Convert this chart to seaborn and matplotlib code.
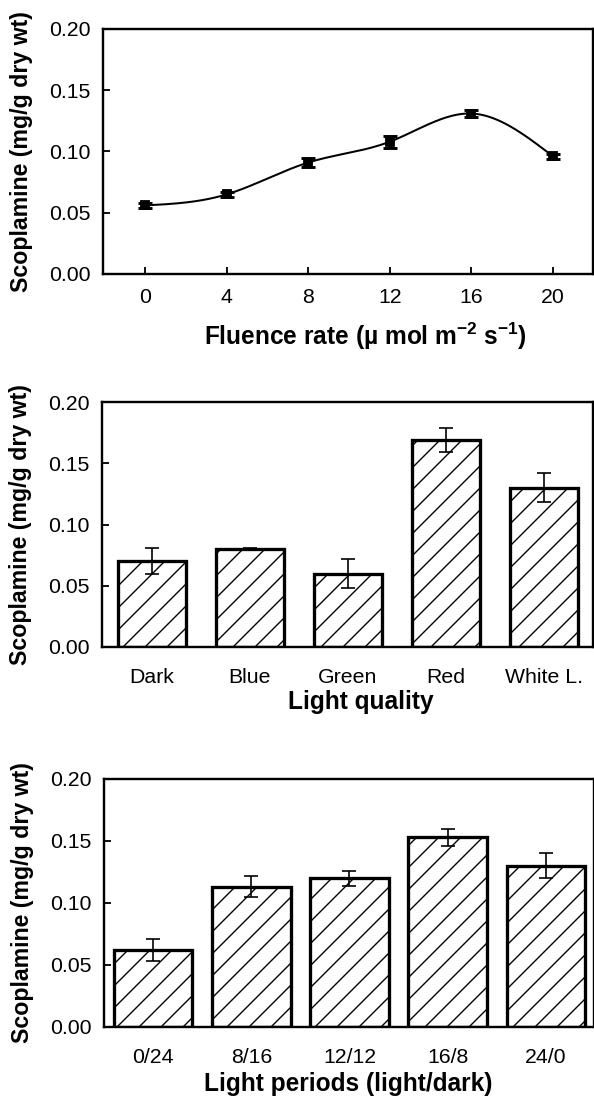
import numpy as np
import pandas as pd
import matplotlib
matplotlib.use("Agg")
import matplotlib.pyplot as plt
import seaborn as sns

# ---------------- data ----------------
fluence = [0, 4, 8, 12, 16, 20]
fluence_scop = [0.056, 0.065, 0.091, 0.108, 0.131, 0.096]
fluence_err = [0.002, 0.002, 0.004, 0.005, 0.003, 0.002]

quality = ["Dark", "Blue", "Green", "Red", "White L."]
quality_scop = [0.070, 0.080, 0.060, 0.169, 0.130]
quality_err = [0.0105, 0.001, 0.0115, 0.010, 0.012]

periods = ["0/24", "8/16", "12/12", "16/8", "24/0"]
period_scop = [0.062, 0.113, 0.120, 0.153, 0.130]
period_err = [0.009, 0.0085, 0.006, 0.007, 0.010]

yticks = [0.00, 0.05, 0.10, 0.15, 0.20]
ytick_labels = ["0.00", "0.05", "0.10", "0.15", "0.20"]
fluence_ticks = [0, 4, 8, 12, 16, 20]

ylabel = "Scoplamine (mg/g dry wt)"
xlabel_top = r"Fluence rate (µ mol m$^{\mathbf{-2}}$ s$^{\mathbf{-1}}$)"
xlabel_mid = "Light quality"
xlabel_bot = "Light periods (light/dark)"

# ---------------- style ----------------
sns.set_style("ticks")
plt.rcParams["font.family"] = ["Liberation Sans", "DejaVu Sans"]
plt.rcParams["mathtext.fontset"] = "custom"
plt.rcParams["mathtext.rm"] = "Liberation Sans"
plt.rcParams["mathtext.bf"] = "Liberation Sans:bold"
plt.rcParams["hatch.linewidth"] = 0.75
plt.rcParams["hatch.color"] = "black"
plt.rcParams["text.color"] = "black"
plt.rcParams["axes.labelcolor"] = "black"
plt.rcParams["xtick.color"] = "black"
plt.rcParams["ytick.color"] = "black"

DPI = 132
fig = plt.figure(figsize=(594 / DPI, 1100 / DPI), dpi=DPI)
W, H = 594.0, 1100.0


def add_axes(left, right, top, bottom):
    return fig.add_axes([left / W, 1 - bottom / H, (right - left) / W, (bottom - top) / H])


ax1 = add_axes(103, 593, 29, 274)
ax2 = add_axes(102, 593, 402, 647)
ax3 = add_axes(104, 594, 779, 1027)

TICK_FS = 11.6
YLAB_FS = 12.6
XLAB_FS = 13.4


def natural_spline(x, y, n=400):
    x = np.asarray(x, float)
    y = np.asarray(y, float)
    k = len(x)
    h = np.diff(x)
    A = np.zeros((k, k))
    b = np.zeros(k)
    A[0, 0] = 1
    A[-1, -1] = 1
    for i in range(1, k - 1):
        A[i, i - 1] = h[i - 1]
        A[i, i] = 2 * (h[i - 1] + h[i])
        A[i, i + 1] = h[i]
        b[i] = 6 * ((y[i + 1] - y[i]) / h[i] - (y[i] - y[i - 1]) / h[i - 1])
    M = np.linalg.solve(A, b)
    xs = np.linspace(x[0], x[-1], n)
    idx = np.clip(np.searchsorted(x, xs) - 1, 0, k - 2)
    x0, x1 = x[idx], x[idx + 1]
    hh = x1 - x0
    t0, t1 = x1 - xs, xs - x0
    ys = (M[idx] * t0 ** 3 / (6 * hh) + M[idx + 1] * t1 ** 3 / (6 * hh)
          + (y[idx] / hh - M[idx] * hh / 6) * t0 + (y[idx + 1] / hh - M[idx + 1] * hh / 6) * t1)
    return xs, ys


def style_axes(ax, xpad):
    for sp in ax.spines.values():
        sp.set_visible(True)
        sp.set_linewidth(1.3)
        sp.set_color("black")
    ax.set_ylim(0, 0.20)
    ax.set_yticks(yticks)
    ax.set_yticklabels(ytick_labels)
    ax.tick_params(axis="both", direction="in", length=3.8, width=1.0, colors="black",
                   labelsize=TICK_FS, top=False, right=False)
    ax.tick_params(axis="y", pad=7)
    ax.tick_params(axis="x", pad=xpad)
    ax.set_ylabel(ylabel, fontsize=YLAB_FS, fontweight="bold", color="black")
    ax.yaxis.set_label_coords(-0.143, 0.5)
    ax.grid(False)


# ---------------- top: fluence rate ----------------
xs, ys = natural_spline(fluence, fluence_scop)
sns.lineplot(x=xs, y=ys, ax=ax1, color="black", linewidth=1.1)
ax1.errorbar(fluence, fluence_scop, yerr=fluence_err, fmt="s", ms=4.2, color="black",
             ecolor="black", elinewidth=1.6, capsize=3.6, capthick=1.6, zorder=3)
ax1.set_xlim(-2.06, 21.96)
ax1.set_xticks(fluence_ticks)
ax1.set_xticklabels([str(v) for v in fluence_ticks])
style_axes(ax1, 7.5)
ax1.set_xlabel(xlabel_top, fontsize=XLAB_FS, fontweight="bold", color="black")
ax1.xaxis.set_label_coords(0.535, -0.19)

# ---------------- middle: light quality ----------------
df_q = pd.DataFrame({"cat": quality, "val": quality_scop})
sns.barplot(data=df_q, x="cat", y="val", ax=ax2, width=0.69, color="white",
            edgecolor="black", linewidth=1.8, hatch="//", saturation=1, errorbar=None)
ax2.errorbar(range(len(quality)), quality_scop, yerr=quality_err, fmt="none",
             ecolor="black", elinewidth=0.9, capsize=3.6, capthick=0.9, zorder=4)
ax2.set_xlim(-0.51, 4.5)
style_axes(ax2, 11.5)
ax2.set_xlabel(xlabel_mid, fontsize=XLAB_FS, fontweight="bold", color="black")
ax2.xaxis.set_label_coords(0.527, -0.175)

# ---------------- bottom: light periods ----------------
df_p = pd.DataFrame({"cat": periods, "val": period_scop})
sns.barplot(data=df_p, x="cat", y="val", ax=ax3, width=0.8, color="white",
            edgecolor="black", linewidth=1.8, hatch="//", saturation=1, errorbar=None)
ax3.errorbar(range(len(periods)), period_scop, yerr=period_err, fmt="none",
             ecolor="black", elinewidth=0.9, capsize=3.6, capthick=0.9, zorder=4)
ax3.set_xlim(-0.5, 4.49)
style_axes(ax3, 11.5)
ax3.set_xlabel(xlabel_bot, fontsize=XLAB_FS, fontweight="bold", color="black")
ax3.xaxis.set_label_coords(0.498, -0.18)

fig.savefig("out.png", dpi=DPI, facecolor="white")
